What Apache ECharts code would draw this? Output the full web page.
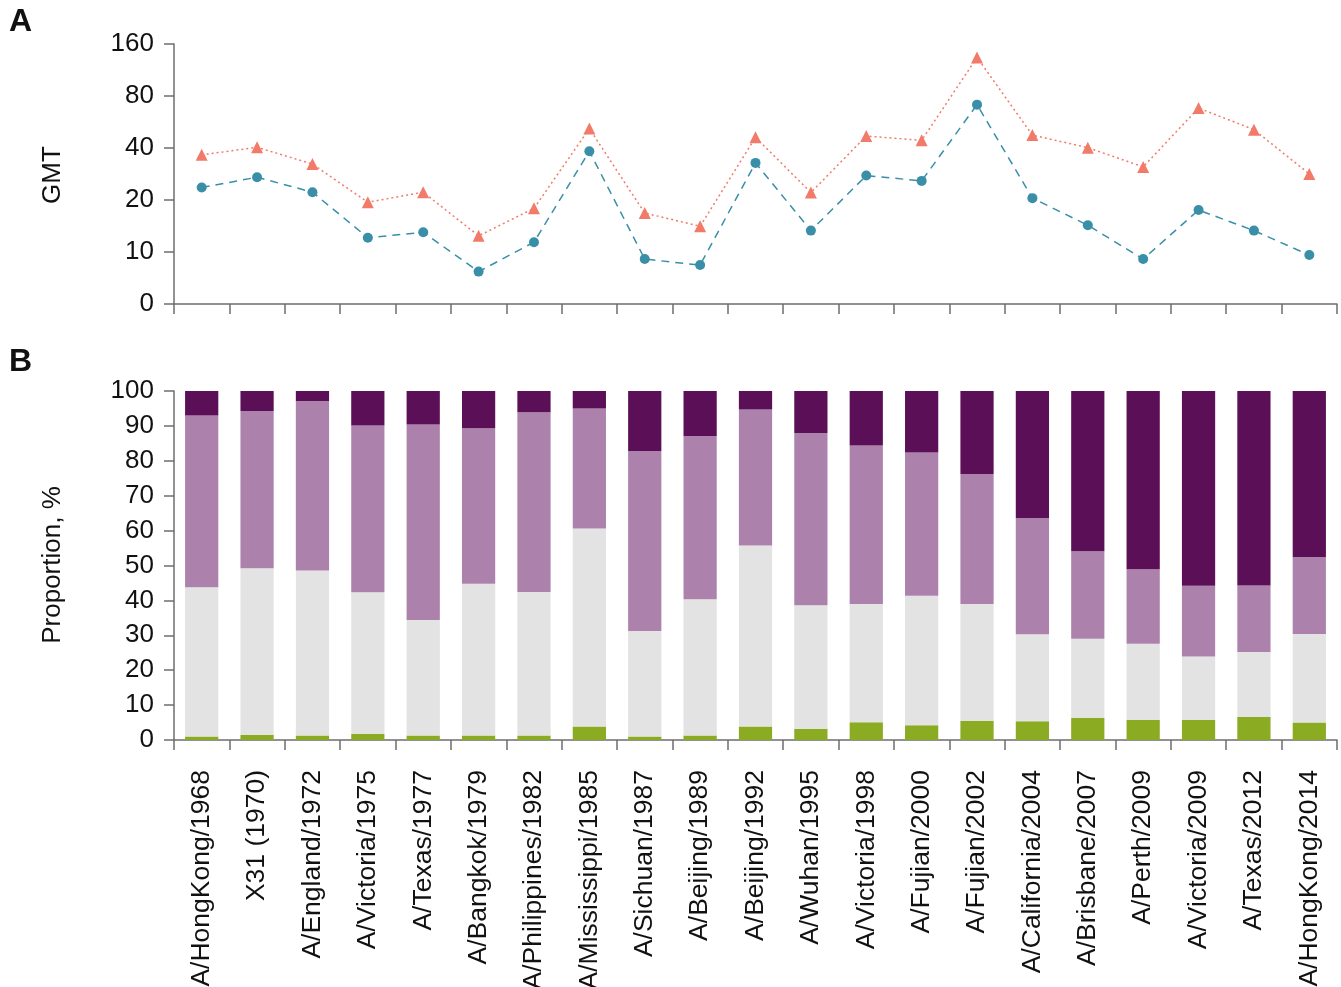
<!DOCTYPE html>
<html>
<head>
<meta charset="utf-8">
<script src="https://cdn.jsdelivr.net/npm/echarts@6/dist/echarts.min.js"></script>
<style>
  html, body { margin: 0; padding: 0; background: #fff; }
  #chart { width: 1341px; height: 987px; }
</style>
</head>
<body>
<div id="chart"></div>
<script>
// Virus strains (shared by both panels)
const strains = [
  'A/HongKong/1968', 'X31 (1970)', 'A/England/1972', 'A/Victoria/1975', 'A/Texas/1977',
  'A/Bangkok/1979', 'A/Philippines/1982', 'A/Mississippi/1985', 'A/Sichuan/1987', 'A/Beijing/1989',
  'A/Beijing/1992', 'A/Wuhan/1995', 'A/Victoria/1998', 'A/Fujian/2000', 'A/Fujian/2002',
  'A/California/2004', 'A/Brisbane/2007', 'A/Perth/2009', 'A/Victoria/2009', 'A/Texas/2012',
  'A/HongKong/2014'
];

// Panel A: geometric mean titres
const gmtCircle = [23.6, 27.1, 22.2, 12.1, 13.0, 7.7, 11.4, 38.3, 9.1, 8.4, 32.8,
  13.3, 27.7, 25.8, 71.3, 20.5, 14.3, 9.1, 17.5, 13.3, 9.6];
const gmtTriangle = [36.5, 40.4, 32.3, 19.4, 22.2, 12.4, 17.9, 51.8, 16.8, 14.1, 46.1,
  22.1, 46.9, 44.3, 133.7, 47.5, 40.2, 31.1, 68.1, 51.1, 28.3];
const gmtTicks = ['0', '10', '20', '40', '80', '160'];

// Panel B: stacked proportions (%), bottom to top
const propGreen = [1.0, 1.5, 1.3, 1.7, 1.3, 1.3, 1.3, 3.9, 1.0, 1.3, 3.9,
  3.2, 5.1, 4.2, 5.5, 5.4, 6.3, 5.8, 5.8, 6.6, 5.0];
const propGrey = [42.8, 47.7, 47.3, 40.6, 33.1, 43.5, 41.1, 56.7, 30.2, 39.0, 51.8,
  35.4, 33.9, 37.1, 33.5, 24.9, 22.7, 21.8, 18.1, 18.6, 25.4];
const propLight = [49.2, 45.1, 48.5, 47.8, 56.0, 44.5, 51.5, 34.4, 51.6, 46.8, 39.0,
  49.4, 45.4, 41.1, 37.2, 33.3, 25.1, 21.3, 20.3, 19.1, 22.0];
const propDark = [7.0, 5.7, 2.9, 9.9, 9.6, 10.7, 6.1, 5.0, 17.2, 12.9, 5.3,
  12.0, 15.6, 17.6, 23.8, 36.4, 45.9, 51.1, 55.8, 55.7, 47.6];

// Two-fold dilution scale: each step doubles, baseline step sits at 5
const toStep = v => Math.log2(v / 5);

const FONT = '"Liberation Sans", Arial, Helvetica, sans-serif';
const AXIS_COLOR = '#6e6e6e';

const axisLine = { show: true, lineStyle: { color: AXIS_COLOR, width: 1.5 } };
const axisTick = { show: true, length: 10, inside: false, interval: 0, lineStyle: { color: AXIS_COLOR, width: 1.5 } };

const chart = echarts.init(document.getElementById('chart'), null, { renderer: 'canvas' });

const barSeries = (name, data, color) => ({
  name, type: 'bar', stack: 'p', xAxisIndex: 1, yAxisIndex: 1,
  barWidth: '60%', data, itemStyle: { color }, silent: true
});

chart.setOption({
  animation: false,
  backgroundColor: '#ffffff',
  textStyle: { fontFamily: FONT },
  grid: [
    { left: 174, right: 4, top: 44, height: 260, containLabel: false, outerBoundsMode: 'none' },
    { left: 174, right: 4, top: 391, height: 349, containLabel: false, outerBoundsMode: 'none' }
  ],
  xAxis: [
    {
      type: 'category', gridIndex: 0, data: strains, boundaryGap: true,
      axisLine, axisTick,
      axisLabel: { show: false, interval: 0 }, splitLine: { show: false }
    },
    {
      type: 'category', gridIndex: 1, data: strains, boundaryGap: true,
      axisLine, axisTick,
      axisLabel: {
        rotate: 90, margin: 30, fontSize: 26.5, color: '#111', fontFamily: FONT, interval: 0
      },
      splitLine: { show: false }
    }
  ],
  yAxis: [
    {
      type: 'value', gridIndex: 0, min: 0, max: 5, interval: 1,
      axisLine, axisTick,
      axisLabel: {
        fontSize: 26, color: '#111', margin: 20, fontFamily: FONT,
        formatter: v => gmtTicks[Math.round(v)]
      },
      splitLine: { show: false }
    },
    {
      type: 'value', gridIndex: 1, min: 0, max: 100, interval: 10,
      axisLine, axisTick,
      axisLabel: { fontSize: 26, color: '#111', margin: 20, fontFamily: FONT },
      splitLine: { show: false }
    }
  ],
  series: [
    {
      name: 'triangle', type: 'line', xAxisIndex: 0, yAxisIndex: 0,
      data: gmtTriangle.map(toStep),
      symbol: 'triangle', symbolSize: 12,
      itemStyle: { color: '#f27a69' },
      lineStyle: { color: '#f27a69', width: 1.5, type: [2, 3] },
      silent: true
    },
    {
      name: 'circle', type: 'line', xAxisIndex: 0, yAxisIndex: 0,
      data: gmtCircle.map(toStep),
      symbol: 'circle', symbolSize: 10,
      itemStyle: { color: '#3a8fa8' },
      lineStyle: { color: '#3a8fa8', width: 1.5, type: [8, 6] },
      silent: true
    },
    barSeries('green', propGreen, '#8aab22'),
    barSeries('grey', propGrey, '#e3e3e3'),
    barSeries('light', propLight, '#ac82ac'),
    barSeries('dark', propDark, '#5b0f57')
  ],
  graphic: [
    { type: 'text', left: 9, top: 6, style: { text: 'A', font: 'bold 32px ' + FONT, fill: '#111' } },
    { type: 'text', left: 9, top: 346, style: { text: 'B', font: 'bold 32px ' + FONT, fill: '#111' } },
    {
      type: 'text', x: 53, y: 175, rotation: Math.PI / 2,
      style: { text: 'GMT', font: '26px ' + FONT, fill: '#111', align: 'center', verticalAlign: 'middle' }
    },
    {
      type: 'text', x: 53, y: 565, rotation: Math.PI / 2,
      style: { text: 'Proportion, %', font: '26px ' + FONT, fill: '#111', align: 'center', verticalAlign: 'middle' }
    }
  ]
});
</script>
</body>
</html>
